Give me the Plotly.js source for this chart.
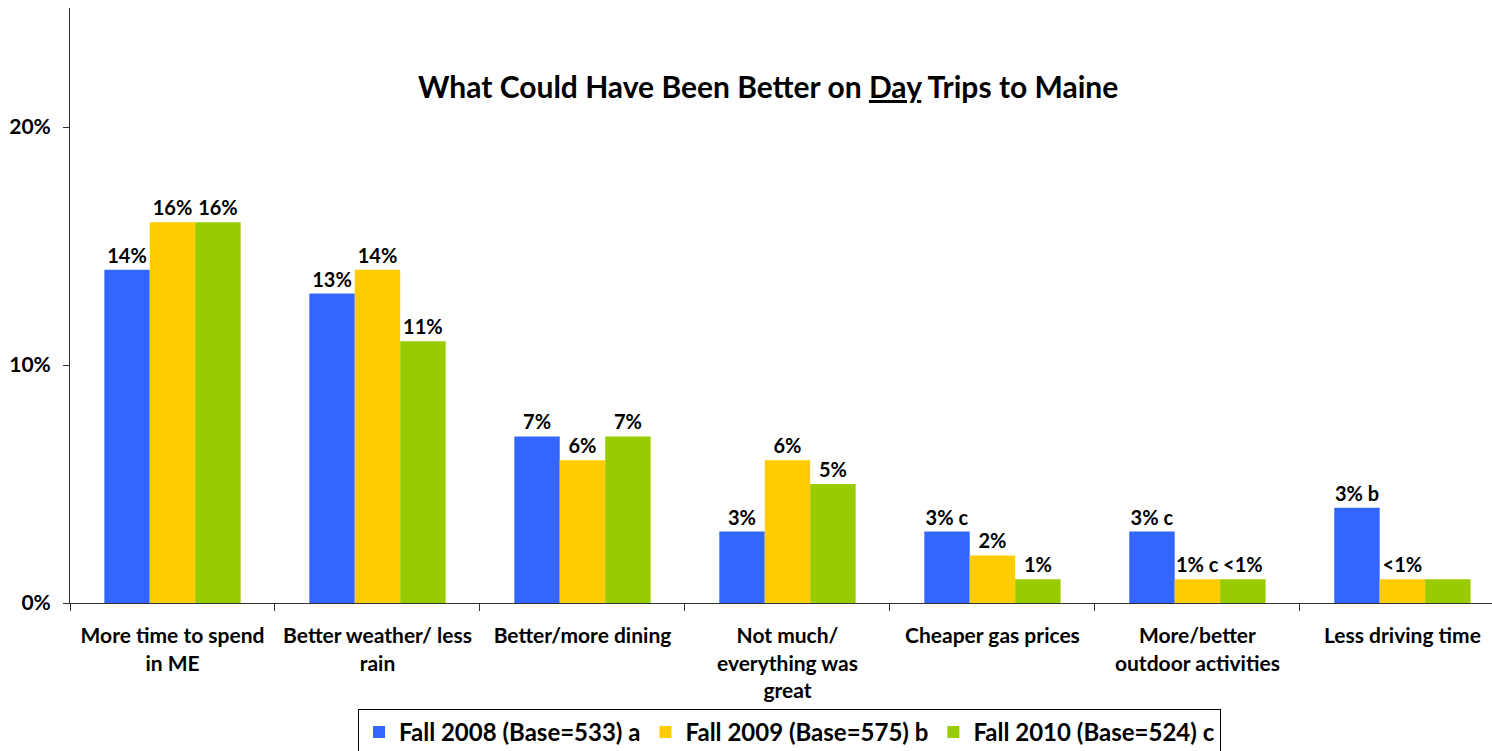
<!DOCTYPE html>
<html>
<head>
<meta charset="utf-8">
<script src="https://cdn.plot.ly/plotly-3.0.1.min.js"></script>
<style>html,body{margin:0;padding:0;background:#fff;}#chart{width:1492px;height:751px;}</style>
</head>
<body>
<div id="chart"></div>
<script>
const categories = ["More time to spend<br>in ME", "Better weather/ less<br>rain", "Better/more dining", "Not much/<br>everything was<br>great", "Cheaper gas prices", "More/better<br>outdoor activities", "Less driving time"];
const seriesNames = ["Fall 2008 (Base=533) a", "Fall 2009 (Base=575) b", "Fall 2010 (Base=524) c"];
const fall2008 = [14, 13, 7, 3, 3, 3, 4];
const fall2009 = [16, 14, 6, 6, 2, 1, 1];
const fall2010 = [16, 11, 7, 5, 1, 1, 1];
const labels2008 = ["14%", "13%", "7%", "3%", "3% c", "3% c", "3% b"];
const labels2009 = ["16%", "14%", "6%", "6%", "2%", "1% c", "<1%"];
const labels2010 = ["16%", "11%", "7%", "5%", "1%", "<1%", ""];
const colors = ["#3366FF", "#FFCC00", "#99CC00"];
const yTickVals = [0, 10, 20];
const yTickText = ["0%", "10%", "20%"];

const FONT = "Lato, 'Open Sans', sans-serif";
const vals = [fall2008, fall2009, fall2010];
const labs = [labels2008, labels2009, labels2010];
const traces = vals.map((v, i) => ({
  type: 'bar',
  name: '<b>' + seriesNames[i] + '</b>',
  x: categories,
  y: v,
  text: labs[i].map(t => t ? '<b>' + t + '</b>' : ''),
  textposition: 'outside',
  textfont: {family: FONT, size: 20, color: '#000'},
  constraintext: 'none',
  cliponaxis: false,
  marker: {color: colors[i], line: {width: 0}},
  hoverinfo: 'none'
}));

const layout = {
  width: 1492, height: 751,
  margin: {l: 70, r: 0, t: 8, b: 148, autoexpand: false},
  paper_bgcolor: '#fff', plot_bgcolor: '#fff',
  barmode: 'group',
  bargap: 0.335,
  bargroupgap: 0,
  font: {family: FONT, color: '#000'},
  xaxis: {
    type: 'category',
    automargin: false,
    range: [-0.5, 6.437],
    showline: true, linecolor: '#333', linewidth: 1,
    ticks: 'outside', ticklen: 7, tickcolor: '#333', tickson: 'boundaries',
    tickfont: {family: FONT, size: 21, color: '#000'},
    ticklabelstandoff: 14,
    showgrid: false, zeroline: false,
    tickvals: categories,
    ticktext: categories.map(c => '<b>' + c + '</b>')
  },
  yaxis: {
    automargin: false,
    range: [0, 25],
    tickvals: yTickVals,
    ticktext: yTickText.map(t => '<b>' + t + '</b>'),
    showline: true, linecolor: '#333', linewidth: 1,
    ticks: 'outside', ticklen: 6, tickcolor: '#333',
    tickfont: {family: FONT, size: 21, color: '#000'},
    ticklabelstandoff: 8,
    showgrid: false, zeroline: false
  },
  showlegend: true,
  legend: {
    orientation: 'h',
    x: 0.506, xanchor: 'center',
    y: -0.178, yanchor: 'top',
    bordercolor: '#000', borderwidth: 1,
    font: {family: FONT, size: 24, color: '#000'},
    itemwidth: 30,
    traceorder: 'normal'
  },
  annotations: [{
    xref: 'paper', yref: 'paper',
    x: (768 - 70) / 1422, y: (603 - 86) / 595,
    xanchor: 'center', yanchor: 'middle',
    text: '<b>What Could Have Been Better on <u>Day</u> Trips to Maine</b>',
    showarrow: false,
    font: {family: FONT, size: 30, color: '#000'}
  }]
};

Plotly.newPlot('chart', traces, layout, {displayModeBar: false, staticPlot: true});
</script>
</body>
</html>
